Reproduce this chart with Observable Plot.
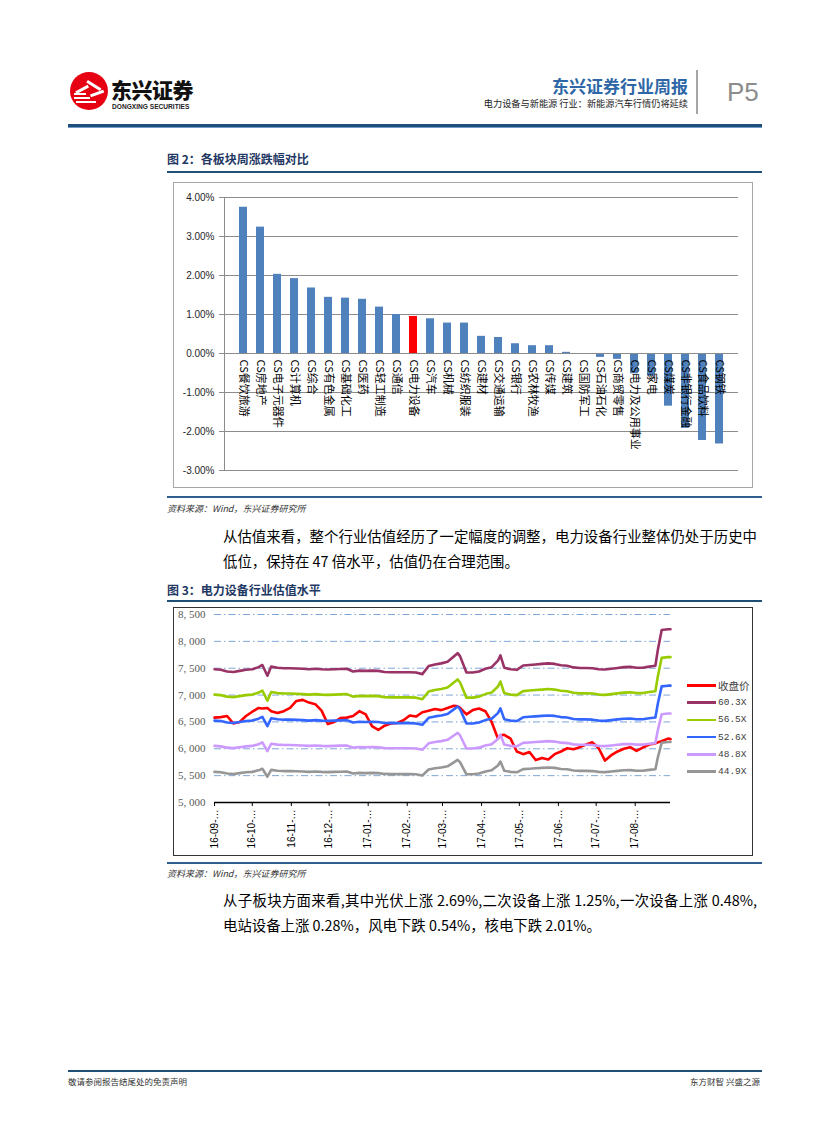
<!DOCTYPE html>
<html><head><meta charset="utf-8">
<script src="https://cdn.jsdelivr.net/npm/d3@7"></script>
<script src="https://cdn.jsdelivr.net/npm/@observablehq/plot@0.6"></script>
<style>
html,body{margin:0;padding:0;background:#fff;}
#page{position:relative;width:827px;height:1122px;overflow:hidden;font-family:"Noto Sans CJK SC",sans-serif;color:#000;}
.a{position:absolute;white-space:nowrap;}
.rule{position:absolute;}
.para{position:absolute;left:223px;width:534px;font-size:14.4px;line-height:18px;white-space:nowrap;}
.just{text-align:justify;text-align-last:justify;}
.src{position:absolute;left:167px;font-size:9px;font-style:italic;color:#333;line-height:11px;}
.figt{position:absolute;left:167px;font-size:12px;font-weight:700;color:#1F3864;line-height:14px;}
.frame{position:absolute;box-sizing:border-box;}
.frame svg{display:block;overflow:visible;}
#legend{position:absolute;left:687px;top:677px;}
#legend .row{display:flex;align-items:center;height:17.2px;}
#legend .sw{width:29px;height:2.6px;}
#legend .lb{margin-left:2px;font-family:"Liberation Mono",monospace;font-size:9.5px;color:#404040;}
</style></head>
<body><div id="page">
  <!-- header -->
  <div class="a" style="left:70px;top:72px;width:38px;height:38px;border-radius:50%;background:#E60012;overflow:hidden;">
    <div class="a" style="left:5px;top:16px;width:14px;height:2.5px;background:#fff;transform:rotate(-28deg);"></div>
    <div class="a" style="left:16px;top:12px;width:16px;height:2.5px;background:#fff;transform:rotate(32deg);"></div>
    <div class="a" style="left:4px;top:21px;width:12px;height:2px;background:#fff;"></div>
    <div class="a" style="left:4px;top:25px;width:16px;height:2px;background:#fff;"></div>
    <div class="a" style="left:6px;top:29px;width:20px;height:2px;background:#fff;"></div>
    <div class="a" style="left:20px;top:20px;width:14px;height:2.5px;background:#fff;transform:rotate(-20deg);"></div>
  </div>
  <div class="a" style="left:111px;top:79px;font-size:21px;font-weight:900;line-height:21px;color:#111;letter-spacing:-0.5px;">东兴证券</div>
  <div class="a" style="left:112px;top:102.5px;font-family:'Liberation Sans',sans-serif;font-size:6.6px;font-weight:700;color:#222;line-height:7px;">DONGXING SECURITIES</div>
  <div class="a" style="right:139px;top:76px;font-size:17px;font-weight:700;color:#2F67A6;line-height:20px;">东兴证券行业周报</div>
  <div class="a" style="right:139px;top:98px;font-size:9.2px;color:#222;line-height:11px;">电力设备与新能源 行业：新能源汽车行情仍将延续</div>
  <div class="rule" style="left:696px;top:70px;width:2px;height:44px;background:#A6A6A6;"></div>
  <div class="a" style="left:727px;top:77px;font-family:'Liberation Sans',sans-serif;font-size:26px;color:#8C8C8C;line-height:30px;">P5</div>
  <div class="rule" style="left:68px;top:124px;width:694px;height:3px;background:#1F4E79;"></div>
  <div class="rule" style="left:68px;top:127px;width:694px;height:1px;background:#6F9CC6;"></div>

  <!-- figure 2 -->
  <div class="figt" style="top:152px;">图 2：各板块周涨跌幅对比</div>
  <div class="rule" style="left:167px;top:171px;width:595px;height:2px;background:#1F4E79;"></div>
  <div class="frame" id="chart1" style="left:173px;top:182px;width:580px;height:306px;border:1px solid #A6A6A6;"></div>
  <div class="rule" style="left:167px;top:496px;width:595px;height:2px;background:#2F5F8F;"></div>
  <div class="src" style="top:503px;">资料来源：Wind，东兴证券研究所</div>

  <div class="para just" style="top:527px;">从估值来看，整个行业估值经历了一定幅度的调整，电力设备行业整体仍处于历史中</div>
  <div class="para" style="top:552px;">低位，保持在 47 倍水平，估值仍在合理范围。</div>

  <!-- figure 3 -->
  <div class="figt" style="top:583px;">图 3：电力设备行业估值水平</div>
  <div class="rule" style="left:167px;top:600px;width:595px;height:2px;background:#1F4E79;"></div>
  <div class="frame" id="chart2" style="left:173px;top:607px;width:580px;height:249px;border:1.5px solid #333;"></div>
  <div id="legend"></div>
  <div class="rule" style="left:167px;top:862px;width:595px;height:2px;background:#2F5F8F;"></div>
  <div class="src" style="top:868px;">资料来源：Wind，东兴证券研究所</div>

  <div class="para just" style="top:891px;">从子板块方面来看,其中光伏上涨 2.69%,二次设备上涨 1.25%,一次设备上涨 0.48%,</div>
  <div class="para" style="top:916px;">电站设备上涨 0.28%，风电下跌 0.54%，核电下跌 2.01%。</div>

  <!-- footer -->
  <div class="rule" style="left:68px;top:1070px;width:694px;height:2px;background:#1F4E79;"></div>
  <div class="a" style="left:68px;top:1076px;font-size:8.5px;color:#333;line-height:10px;">敬请参阅报告结尾处的免责声明</div>
  <div class="a" style="right:67px;top:1076px;font-size:8.5px;color:#333;line-height:10px;">东方财智 兴盛之源</div>
</div>
<script>
// ---------- Figure 2: weekly change by sector (%) ----------
const sectors = ["CS餐饮旅游","CS房地产","CS电子元器件","CS计算机","CS综合","CS有色金属","CS基础化工","CS医药","CS轻工制造","CS通信","CS电力设备","CS汽车","CS机械","CS纺织服装","CS建材","CS交通运输","CS银行","CS农林牧渔","CS传媒","CS建筑","CS国防军工","CS石油石化","CS商贸零售","CS电力及公用事业","CS家电","CS煤炭","CS非银行金融","CS食品饮料","CS钢铁"];
const weeklyChange = [3.75,3.24,2.03,1.92,1.68,1.44,1.42,1.39,1.19,1.00,0.95,0.89,0.78,0.78,0.44,0.41,0.25,0.20,0.20,0.03,-0.01,-0.10,-0.15,-0.52,-0.58,-1.35,-1.92,-2.23,-2.32];
const highlightSector = "CS电力设备";
const pctTicks = [-3,-2,-1,0,1,2,3,4];

// ---------- Figure 3: valuation bands ----------
const dates = ["2016-09-01","2016-09-06","2016-09-11","2016-09-16","2016-09-21","2016-09-26","2016-10-01","2016-10-06","2016-10-09","2016-10-13",
"2016-10-16","2016-10-21","2016-10-26","2016-10-31","2016-11-05","2016-11-10","2016-11-15","2016-11-20","2016-11-25","2016-11-30",
"2016-12-05","2016-12-10","2016-12-15","2016-12-20","2016-12-25","2016-12-30","2017-01-04","2017-01-09","2017-01-14","2017-01-19",
"2017-01-24","2017-01-29","2017-02-03","2017-02-08","2017-02-13","2017-02-18","2017-02-23","2017-02-28","2017-03-05","2017-03-10",
"2017-03-13","2017-03-15","2017-03-20","2017-03-25","2017-03-30","2017-04-04","2017-04-09","2017-04-14","2017-04-16","2017-04-19",
"2017-04-24","2017-04-29","2017-05-04","2017-05-09","2017-05-14","2017-05-19","2017-05-24","2017-05-29","2017-06-03","2017-06-08",
"2017-06-13","2017-06-18","2017-06-23","2017-06-28","2017-07-03","2017-07-08","2017-07-13","2017-07-18","2017-07-23","2017-07-28",
"2017-08-02","2017-08-07","2017-08-12","2017-08-17","2017-08-19","2017-08-22","2017-08-27","2017-08-29"];
const closePrice = [6580,6590,6610,6470,6500,6610,6690,6760,6750,6760,
6700,6665,6700,6760,6890,6910,6860,6830,6710,6460,
6500,6570,6580,6610,6700,6640,6420,6350,6430,6470,
6480,6530,6620,6600,6680,6710,6740,6720,6760,6800,
6790,6760,6640,6720,6750,6700,6500,6190,6250,6260,
6190,5950,5900,5940,5790,5830,5800,5900,5950,6010,
5990,6030,6080,6120,6010,5780,5880,5950,6000,6030,
5960,6020,6080,6100,6120,6140,6190,6180];
const pe603 = [7480,7470,7440,7430,7450,7470,7480,7520,7560,7360,
7530,7510,7500,7500,7495,7490,7480,7490,7480,7475,
7480,7485,7490,7440,7455,7450,7455,7450,7430,7425,
7425,7425,7425,7420,7390,7540,7570,7590,7620,7720,
7780,7720,7420,7420,7440,7490,7520,7640,7740,7510,
7480,7470,7550,7560,7570,7580,7590,7580,7555,7545,
7515,7505,7505,7500,7480,7475,7490,7505,7520,7525,
7510,7510,7530,7545,7850,8210,8225,8225];
const pe565 = [7009,6999,6971,6962,6981,6999,7009,7046,7084,6896,
7056,7037,7028,7028,7023,7018,7009,7018,7009,7004,
7009,7013,7018,6971,6985,6981,6985,6981,6962,6957,
6957,6957,6957,6952,6924,7065,7093,7112,7140,7234,
7290,7234,6952,6952,6971,7018,7046,7159,7252,7037,
7009,6999,7074,7084,7093,7102,7112,7102,7079,7070,
7042,7032,7032,7028,7009,7004,7018,7032,7046,7051,
7037,7037,7056,7070,7355,7693,7707,7707];
const pe526 = [6525,6516,6490,6481,6499,6516,6525,6560,6595,6420,
6568,6551,6542,6542,6538,6534,6525,6534,6525,6520,
6525,6529,6534,6490,6503,6499,6503,6499,6481,6477,
6477,6477,6477,6472,6446,6577,6603,6621,6647,6734,
6787,6734,6472,6472,6490,6534,6560,6664,6752,6551,
6525,6516,6586,6595,6603,6612,6621,6612,6590,6582,
6555,6547,6547,6542,6525,6520,6534,6547,6560,6564,
6551,6551,6568,6582,6848,7162,7175,7175];
const pe488 = [6054,6045,6021,6013,6029,6045,6054,6086,6118,5956,
6094,6078,6070,6070,6066,6062,6054,6062,6054,6049,
6054,6058,6062,6021,6033,6029,6033,6029,6013,6009,
6009,6009,6009,6005,5981,6102,6126,6143,6167,6248,
6296,6248,6005,6005,6021,6062,6086,6183,6264,6078,
6054,6045,6110,6118,6126,6134,6143,6134,6114,6106,
6082,6074,6074,6070,6054,6049,6062,6074,6086,6090,
6078,6078,6094,6106,6353,6644,6656,6656];
const pe449 = [5570,5562,5540,5532,5547,5562,5570,5599,5629,5480,
5607,5592,5585,5585,5581,5577,5570,5577,5570,5566,
5570,5573,5577,5540,5551,5547,5551,5547,5532,5529,
5529,5529,5529,5525,5503,5614,5637,5652,5674,5748,
5793,5748,5525,5525,5540,5577,5599,5689,5763,5592,
5570,5562,5622,5629,5637,5644,5652,5644,5625,5618,
5596,5588,5588,5585,5570,5566,5577,5588,5599,5603,
5592,5592,5607,5618,5845,6113,6125,6125];
const seriesNames = ["收盘价","60.3X","56.5X","52.6X","48.8X","44.9X"];
const seriesColors = ["#FF0000","#993366","#99CC00","#3366FF","#CC99FF","#969696"];
const valueTicks = [5000,5500,6000,6500,7000,7500,8000,8500];
const monthTicks = ["2016-09-01","2016-10-01","2016-11-01","2016-12-01","2017-01-01","2017-02-01","2017-03-01","2017-04-01","2017-05-01","2017-06-01","2017-07-01","2017-08-01"];
const xStart = "2016-09-01", xEnd = "2017-08-29";

// ---------- chart 1 ----------
const bars = sectors.map((s, i) => ({sector: s, value: weeklyChange[i]}));
const chart1 = Plot.plot({
  width: 578, height: 304,
  marginLeft: 50, marginRight: 14, marginTop: 14, marginBottom: 17,
  style: {fontFamily: "'Liberation Sans', Arial, sans-serif", fontSize: "10px", color: "#262626", background: "transparent", overflow: "visible"},
  x: {domain: sectors, padding: 0.53, axis: null},
  y: {domain: [-3, 4], label: null},
  marks: [
    Plot.gridY(pctTicks, {stroke: "#8C8C8C", strokeOpacity: 1}),
    Plot.axisY(pctTicks, {tickFormat: d => d.toFixed(2) + "%", tickSize: 5, tickPadding: 5, stroke: "#8C8C8C", fill: "#262626", label: null}),
    Plot.frame({anchor: "left", stroke: "#8C8C8C"}),
    Plot.barY(bars, {filter: d => d.sector !== highlightSector, x: "sector", y: "value", fill: "#4F81BD"}),
    Plot.barY(bars, {filter: d => d.sector === highlightSector, x: "sector", y: "value", fill: "#FF0000"}),
    Plot.ruleY([0], {stroke: "#8C8C8C"}),
    Plot.text(bars, {x: "sector", y: () => 0, text: "sector", rotate: 90, textAnchor: "start", dy: 6, fontSize: 11, fontFamily: "'Noto Sans CJK SC', sans-serif", fill: "#000"})
  ]
});
document.getElementById("chart1").appendChild(chart1);

// ---------- chart 2 ----------
const parse = d3.utcParse("%Y-%m-%d");
const seriesValues = [closePrice, pe603, pe565, pe526, pe488, pe449];
const rows = seriesNames.flatMap((name, k) => dates.map((d, i) => ({date: parse(d), value: seriesValues[k][i], name})));
const chart2 = Plot.plot({
  width: 577, height: 246,
  marginLeft: 40, marginRight: 81, marginTop: 6, marginBottom: 52,
  style: {fontFamily: "'Liberation Sans', Arial, sans-serif", fontSize: "10px", color: "#000", background: "transparent", overflow: "visible"},
  x: {type: "utc", domain: [parse(xStart), parse(xEnd)], label: null},
  y: {domain: [5000, 8500], label: null},
  marks: [
    Plot.gridY(valueTicks.filter(v => v > 5000), {stroke: "#7EA6D6", strokeOpacity: 1, strokeDasharray: "7,3,1.5,3"}),
    Plot.axisY(valueTicks, {tickSize: 0, tickPadding: 9, tickFormat: d => d3.format(",")(d).replace(",", ", "), fontFamily: "'Liberation Serif', serif", fontSize: 11, fill: "#595959", label: null}),
    Plot.axisX(monthTicks.map(parse), {tickSize: 4, tickPadding: 3, tickRotate: -90, tickFormat: d => d3.utcFormat("%y-%m-")(d) + "…", fontSize: 10, stroke: "#000", fill: "#000", label: null}),
    Plot.ruleY([5000], {stroke: "#000", strokeWidth: 1.3}),
    ...seriesNames.map((name, k) => Plot.line(rows, {filter: d => d.name === name, x: "date", y: "value", stroke: seriesColors[k], strokeWidth: 2.6}))
  ]
});
document.getElementById("chart2").appendChild(chart2);

// legend
const legend = document.getElementById("legend");
seriesNames.forEach((name, k) => {
  const row = document.createElement("div"); row.className = "row";
  const sw = document.createElement("div"); sw.className = "sw"; sw.style.background = seriesColors[k];
  const lb = document.createElement("div"); lb.className = "lb"; lb.textContent = name;
  if (k === 0) { lb.style.fontFamily = "'Noto Sans CJK SC', sans-serif"; lb.style.fontSize = "10.5px"; }
  row.appendChild(sw); row.appendChild(lb); legend.appendChild(row);
});
</script>
</body></html>
